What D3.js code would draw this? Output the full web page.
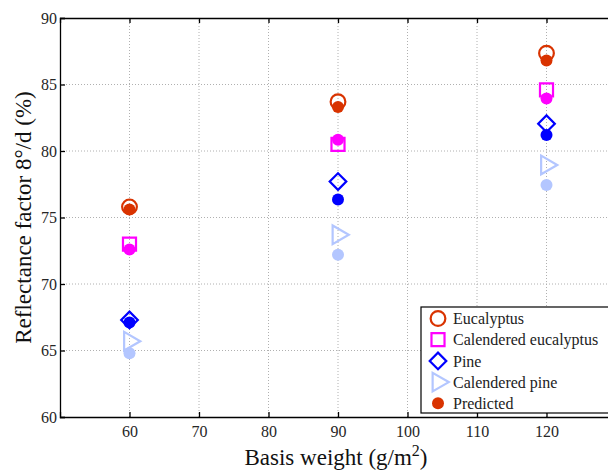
<!DOCTYPE html>
<html>
<head>
<meta charset="utf-8">
<script src="https://cdn.jsdelivr.net/npm/d3@7"></script>
<style>
  body { margin: 0; background: #fff; }
  svg, svg text { font-family: 'Liberation Serif', 'Times New Roman', 'DejaVu Serif', serif; }
</style>
</head>
<body>
<div id="chart"></div>
<script>
// basis weights (g/m2)
const weights = [60, 90, 120];
// measured reflectance factor (%)
const eucalyptus = [75.8, 83.7, 87.35];
const calEucalyptus = [73.0, 80.5, 84.6];
const pine = [67.3, 77.7, 82.05];
const calPine = [65.7, 73.7, 78.95];
// predicted values, one per series
const predEucalyptus = [75.6, 83.3, 86.8];
const predCalEucalyptus = [72.6, 80.85, 83.95];
const predPine = [67.1, 76.35, 81.2];
const predCalPine = [64.8, 72.2, 77.45];

const xTicks = [60, 70, 80, 90, 100, 110, 120, 130];
const yTicks = [60, 65, 70, 75, 80, 85, 90];

const series = [
  { name: "Eucalyptus", shape: "circle", color: "#d93300", values: eucalyptus, pred: predEucalyptus },
  { name: "Calendered eucalyptus", shape: "square", color: "#ff00ff", values: calEucalyptus, pred: predCalEucalyptus },
  { name: "Pine", shape: "diamond", color: "#0000ff", values: pine, pred: predPine },
  { name: "Calendered pine", shape: "triangle", color: "#b3c6ff", values: calPine, pred: predCalPine },
];

const serif = "'Liberation Serif', 'Times New Roman', 'DejaVu Serif', serif";
const width = 608, height = 470;
const margin = { left: 60, top: 18, right: -8, bottom: 53 };

const svg = d3.select("#chart").append("svg")
  .attr("width", width).attr("height", height)
  .attr("font-family", serif);

const x = d3.scaleLinear().domain([50, 130]).range([margin.left, width - margin.right]);
const y = d3.scaleLinear().domain([60, 90]).range([height - margin.bottom, margin.top]);

// grid
const grid = svg.append("g").attr("stroke", "#b0b0b0").attr("stroke-dasharray", "1,2").attr("stroke-width", 1);
grid.selectAll("line.gx").data(xTicks).enter().append("line")
  .attr("x1", d => x(d)).attr("x2", d => x(d))
  .attr("y1", y(60)).attr("y2", y(90));
grid.selectAll("line.gy").data(yTicks.slice(1, -1)).enter().append("line")
  .attr("x1", x(50)).attr("x2", x(130))
  .attr("y1", d => y(d)).attr("y2", d => y(d));

// axes, ticks inward
const xAxis = svg.append("g").attr("transform", `translate(0,${y(60)})`)
  .call(d3.axisBottom(x).tickValues(xTicks).tickSize(-5).tickPadding(12)
    .tickFormat(d => d < 130 ? d : ""));
const xAxisTop = svg.append("g").attr("transform", `translate(0,${y(90)})`)
  .call(d3.axisTop(x).tickValues(xTicks).tickSize(-5).tickFormat(""));
const yAxis = svg.append("g").attr("transform", `translate(${x(50)},0)`)
  .call(d3.axisLeft(y).tickValues(yTicks).tickSize(-5).tickPadding(3));

[xAxis, xAxisTop, yAxis].forEach(g => {
  g.attr("font-family", serif);
  g.select(".domain").attr("stroke", "#000").attr("stroke-width", 1.3);
  g.selectAll(".tick line").attr("stroke", "#000").attr("stroke-width", 1.3);
  g.selectAll(".tick text").attr("fill", "#262626").style("font-size", "16px")
    .style("font-family", serif);
});
xAxis.selectAll(".tick text").attr("dy", "0.5em");

// marker drawing (diamond = square turned 45deg, triangle points right)
const shapeSize = { circle: 170, square: 170, diamond: 138, triangle: 150 };
const shapeType = {
  circle: d3.symbolCircle,
  square: d3.symbolSquare,
  diamond: d3.symbolSquare,
  triangle: d3.symbolTriangle,
};
function markerPath(shape) {
  return d3.symbol().type(shapeType[shape]).size(shapeSize[shape])();
}
function rot(shape) {
  if (shape === "triangle") return 90;
  if (shape === "diamond") return 45;
  return 0;
}

const plot = svg.append("g");
series.forEach(s => {
  plot.selectAll(null).data(weights.map((w, i) => [w, s.values[i]])).enter()
    .append("path")
    .attr("d", markerPath(s.shape))
    .attr("transform", d => `translate(${x(d[0])},${y(d[1])}) rotate(${rot(s.shape)})`)
    .attr("fill", "none").attr("stroke", s.color).attr("stroke-width", 2.2);
});
series.forEach(s => {
  plot.selectAll(null).data(weights.map((w, i) => [w, s.pred[i]])).enter()
    .append("circle")
    .attr("cx", d => x(d[0])).attr("cy", d => y(d[1]))
    .attr("r", 6).attr("fill", s.color);
});

// legend
const legend = svg.append("g").attr("transform", "translate(421,307)");
legend.append("rect").attr("x", 0).attr("y", 0).attr("width", 200).attr("height", 106)
  .attr("fill", "#fff").attr("stroke", "#000").attr("stroke-width", 1.2);
const legendItems = series.map(s => ({ name: s.name, shape: s.shape, color: s.color }))
  .concat([{ name: "Predicted", shape: "dot", color: series[0].color }]);
const li = legend.selectAll("g.item").data(legendItems).enter().append("g")
  .attr("transform", (d, i) => `translate(17,${11.5 + i * 21.2})`);
li.each(function (d) {
  const g = d3.select(this);
  if (d.shape === "dot") {
    g.append("circle").attr("r", 6).attr("fill", d.color);
  } else {
    g.append("path").attr("d", markerPath(d.shape))
      .attr("transform", `rotate(${rot(d.shape)})`)
      .attr("fill", "none").attr("stroke", d.color).attr("stroke-width", 2.2);
  }
});
li.append("text").attr("x", 15).attr("dy", "0.35em")
  .style("font-size", "16px").style("font-family", serif).attr("fill", "#222").text(d => d.name);

// axis labels
svg.append("text")
  .attr("transform", `translate(31,${(y(60) + y(90)) / 2}) rotate(-90)`)
  .attr("text-anchor", "middle").style("font-size", "23px").style("font-family", serif)
  .attr("fill", "#111")
  .text("Reflectance factor 8°/d (%)");
const xl = svg.append("text").attr("x", 336).attr("y", 465)
  .attr("text-anchor", "middle").style("font-size", "23px").style("font-family", serif)
  .attr("fill", "#111");
xl.append("tspan").text("Basis weight (g/m");
xl.append("tspan").attr("dy", -9).style("font-size", "16px").text("2");
xl.append("tspan").attr("dy", 9).text(")");
</script>
</body>
</html>
